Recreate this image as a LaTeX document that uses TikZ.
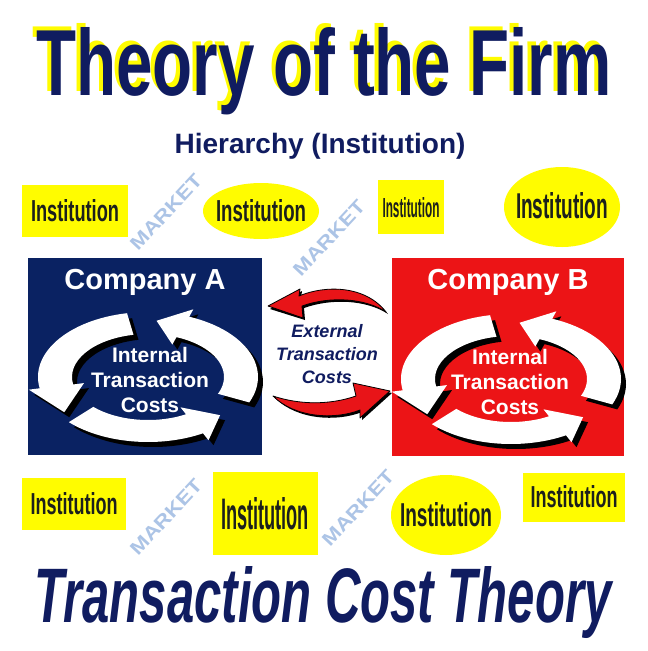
\documentclass[tikz,border=0pt]{standalone}
\usepackage{fontspec}
\setmainfont{Liberation Sans}
\usepackage{graphicx}
\definecolor{navy}{RGB}{16,28,96}
\definecolor{boxnavy}{RGB}{10,34,98}
\definecolor{boxred}{RGB}{236,20,22}
\definecolor{arrred}{RGB}{232,20,24}
\definecolor{instyellow}{RGB}{255,252,0}
\definecolor{insttext}{RGB}{28,32,28}
\definecolor{marketblue}{RGB}{172,196,230}
\newcommand{\Inst}[2]{\resizebox{#1pt}{#2pt}{\bfseries Institution}}
\newcommand{\Mkt}{\resizebox{96pt}{13pt}{\bfseries MARKET}}
\def\RX{93}\def\RY{54}\def\TX{17}\def\TY{11}\def\HX{28}\def\HY{19}\def\HL{27}
\newcommand{\RingArrow}[3]{%
  \fill[#3] ({(\RX+\TX)*cos(#1)},{(\RY+\TY)*sin(#1)})
    arc[start angle=#1, end angle=#2, x radius=\RX+\TX, y radius=\RY+\TY]
    -- ({(\RX+\HX)*cos(#2)},{(\RY+\HY)*sin(#2)})
    -- ({\RX*cos(#2)-\HL*\RX*sin(#2)/sqrt((\RX*sin(#2))*(\RX*sin(#2))+(\RY*cos(#2))*(\RY*cos(#2)))},
        {\RY*sin(#2)+\HL*\RY*cos(#2)/sqrt((\RX*sin(#2))*(\RX*sin(#2))+(\RY*cos(#2))*(\RY*cos(#2)))})
    -- ({(\RX-\HX)*cos(#2)},{(\RY-\HY)*sin(#2)})
    -- ({(\RX-\TX)*cos(#2)},{(\RY-\TY)*sin(#2)})
    arc[start angle=#2, end angle=#1, x radius=\RX-\TX, y radius=\RY-\TY] -- cycle;}
\newcommand{\Ring}{%
  \RingArrow{101}{190}{black, shift={(5,-5)}}
  \RingArrow{224}{300}{black, shift={(5,-5)}}
  \RingArrow{-23}{68}{black, shift={(5,-5)}}
  \RingArrow{101}{190}{white}
  \RingArrow{224}{300}{white}
  \RingArrow{-23}{68}{white}}
\begin{document}
\begin{tikzpicture}[x=1pt,y=-1pt,
  inst/.style={inner sep=0pt, text=insttext},
  market/.style={inner sep=0pt, text=marketblue, rotate=47},
  company/.style={inner sep=0pt, text=white, font=\fontsize{29}{32}\selectfont\bfseries},
  internal/.style={inner sep=0pt, text=white, align=center, font=\fontsize{21}{25}\selectfont\bfseries},
  redarrow/.style={fill=arrred, draw=black, line width=0.8pt, line join=round},
  arrshadow/.style={fill=black}]
\useasboundingbox (0,0) rectangle (648,651);
\fill[white] (0,0) rectangle (648,651);

% MARKET labels
\node[market] (m1) at (166,212) {\Mkt};
\node[market] (m2) at (329,238) {\Mkt};
\node[market] (m3) at (166,517) {\Mkt};
\node[market] (m4) at (358,508) {\Mkt};

% Institution row 1
\fill[instyellow] (22,185) rectangle (128,237);
\node[inst] (i1) at (75,211) {\Inst{88}{22}};
\fill[instyellow] (261,211) ellipse[x radius=58, y radius=28];
\node[inst] (i2) at (261,211) {\Inst{90}{22}};
\fill[instyellow] (378,180) rectangle (444,234);
\node[inst] (i3) at (411,208) {\Inst{57}{20}};
\fill[instyellow] (562,207) ellipse[x radius=58, y radius=40];
\node[inst] (i4) at (562,206) {\Inst{92}{26}};

% Institution row 2
\fill[instyellow] (22,478) rectangle (126,530);
\node[inst] (i5) at (74,504) {\Inst{87}{22}};
\fill[instyellow] (213,472) rectangle (318,555);
\node[inst] (i6) at (265,514) {\Inst{88}{32}};
\fill[instyellow] (446,515) ellipse[x radius=55, y radius=40];
\node[inst] (i7) at (446,515) {\Inst{92}{24}};
\fill[instyellow] (523,473) rectangle (625,522);
\node[inst] (i8) at (574,497) {\Inst{87}{22}};

% Titles
\node[anchor=base, inner sep=0pt, text=instyellow] (titleshadow) at (320,91)
  {\resizebox{575pt}{68pt}{\bfseries Theory of the Firm}};
\node[anchor=base, inner sep=0pt, text=navy] (title) at (324,95)
  {\resizebox{575pt}{68pt}{\bfseries Theory of the Firm}};
\node[inner sep=0pt, text=navy, font=\fontsize{28}{30}\selectfont\bfseries] (hier) at (320,146)
  {Hierarchy (Institution)};
\node[anchor=base, inner sep=0pt, text=navy] (bottom) at (323,622)
  {\resizebox{577pt}{56pt}{\bfseries\itshape Transaction Cost Theory}};

% Company boxes
\fill[boxnavy] (28,258) rectangle (262,455);
\fill[boxred] (392,258) rectangle (624,456);
\node[company] (ca) at (145,282) {Company A};
\node[company] (cb) at (508,282) {Company B};

% Ring arrows
\begin{scope}[shift={(148,377)}, y=1pt]
  \Ring
\end{scope}
\begin{scope}[shift={(511,379)}, y=1pt]
  \Ring
\end{scope}
\node[internal] (ia) at (150,380) {Internal\\Transaction\\Costs};
\node[internal] (ib) at (510,382) {Internal\\Transaction\\Costs};

% External arrows
\fill[arrshadow] (270,309) -- (302,291) -- (301,298)
  .. controls (327,287) and (367,287) .. (388,314)
  .. controls (367,300) and (332,298) .. (304,308)
  -- (305,320) -- cycle;
\path[redarrow] (268,306) -- (300,289) -- (299,296)
  .. controls (325,285) and (365,285) .. (386,312)
  .. controls (365,298) and (330,296) .. (302,306)
  -- (303,318) -- cycle;
\fill[arrshadow] (275,398)
  .. controls (297,420) and (337,422) .. (362,412)
  -- (362,420) -- (392,393) -- (355,385) -- (358,398)
  .. controls (332,407) and (302,407) .. (275,398);
\path[redarrow] (273,396)
  .. controls (295,418) and (335,420) .. (360,410)
  -- (360,418) -- (390,391) -- (353,383) -- (356,396)
  .. controls (330,405) and (300,405) .. (273,396) -- cycle;
\node[inner sep=0pt, text=navy, align=center, font=\fontsize{18}{23}\selectfont\bfseries\itshape] (ext) at (327,354)
  {External\\Transaction\\Costs};
\end{tikzpicture}
\end{document}
